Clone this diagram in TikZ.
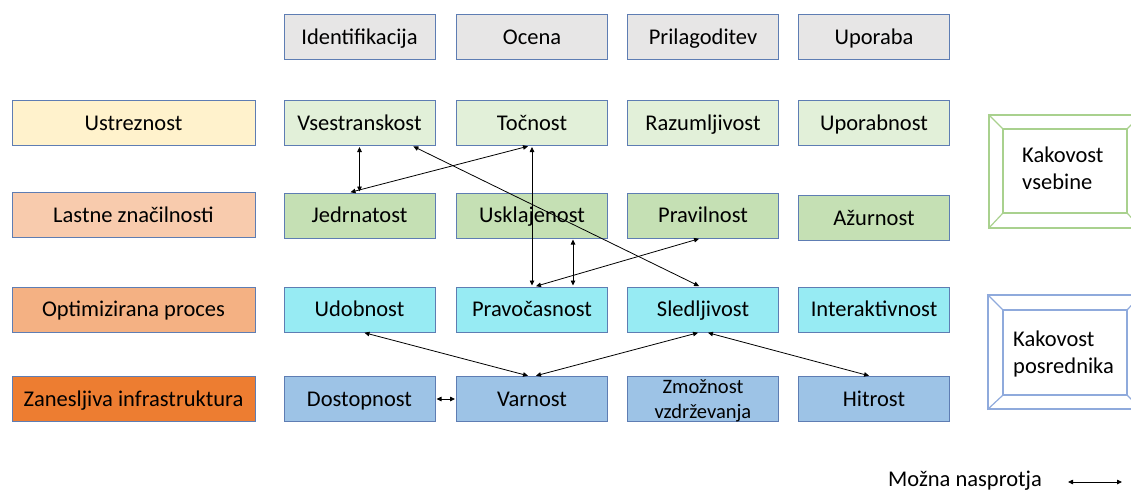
\documentclass[tikz,border=0pt]{standalone}
\usepackage{fontspec}
\setmainfont{Carlito}
\usetikzlibrary{arrows.meta}
\definecolor{bordc}{HTML}{5E7DB3}
\definecolor{hdr}{HTML}{E7E6E6}
\definecolor{lyel}{HTML}{FFF2CC}
\definecolor{lpea}{HTML}{F8CBAD}
\definecolor{lora}{HTML}{F4B183}
\definecolor{dora}{HTML}{ED7D31}
\definecolor{gA}{HTML}{E2F0D9}
\definecolor{gB}{HTML}{C5E0B4}
\definecolor{cyA}{HTML}{97EBF3}
\definecolor{blA}{HTML}{9DC3E6}
\definecolor{frG}{HTML}{A9D18E}
\definecolor{frB}{HTML}{8FAADC}
\tikzset{
  basebox/.style={draw=bordc, line width=1pt, minimum width=151pt, minimum height=45pt,
    inner sep=0pt, text=black},
  box/.style={basebox, font=\fontsize{22.5}{26}\selectfont, text height=16pt, text depth=2pt},
  lbox/.style={box, minimum width=243pt},
  opp/.style={{Triangle[length=5pt,width=4.5pt]}-{Triangle[length=5pt,width=4.5pt]}, line width=0.8pt, black, shorten <=1pt, shorten >=1pt},
  frameline/.style={line width=1.2pt},
  ftext/.style={font=\fontsize{22.5}{27}\selectfont, align=left, inner sep=0pt, anchor=west}
}
\begin{document}
\begin{tikzpicture}[x=1pt,y=-1pt]
\clip (0,0) rectangle (1131,492);
% header row
\node[box, fill=hdr] (h1) at (359.5,37.5) {Identifikacija};
\node[box, fill=hdr] (h2) at (532,37.5) {Ocena};
\node[box, fill=hdr] (h3) at (703,37.5) {Prilagoditev};
\node[box, fill=hdr] (h4) at (874,37.5) {Uporaba};
% left column
\node[lbox, fill=lyel] (l1) at (133.5,123) {Ustreznost};
\node[lbox, fill=lpea] (l2) at (133.5,215) {Lastne značilnosti};
\node[lbox, fill=lora] (l3) at (133.5,309.5) {Optimizirana proces};
\node[lbox, fill=dora] (l4) at (133.5,399) {Zanesljiva infrastruktura};
% row 1
\node[box, fill=gA] (vse) at (359.5,123) {Vsestranskost};
\node[box, fill=gA] (toc) at (532,123) {Točnost};
\node[box, fill=gA] (raz) at (703,123) {Razumljivost};
\node[box, fill=gA] (upb) at (874,123) {Uporabnost};
% row 2
\node[box, fill=gB] (jed) at (359.5,215.5) {Jedrnatost};
\node[box, fill=gB] (usk) at (532,215.5) {Usklajenost};
\node[box, fill=gB] (prv) at (703,215.5) {Pravilnost};
\node[box, fill=gB] (azu) at (874,218) {Ažurnost};
% row 3
\node[box, fill=cyA] (udo) at (359.5,309.5) {Udobnost};
\node[box, fill=cyA] (pra) at (532,309.5) {Pravočasnost};
\node[box, fill=cyA] (sle) at (703,309.5) {Sledljivost};
\node[box, fill=cyA] (int) at (874,309.5) {Interaktivnost};
% row 4
\node[box, fill=blA] (dos) at (359.5,399) {Dostopnost};
\node[box, fill=blA] (var) at (532,399) {Varnost};
\node[basebox, fill=blA] (zmo) at (703,399) {};
\node[inner sep=0pt, align=center, font=\fontsize{20.5}{25}\selectfont] (zmot) at (703,401) {Zmožnost\\vzdrževanja};
\node[box, fill=blA] (hit) at (874,399) {Hitrost};
% connectors
\draw[opp] (vse.south) -- (jed.north);
\draw[opp] ([xshift=-3pt]toc.south) -- ([xshift=-10pt]jed.north);
\draw[opp] ([xshift=53pt]vse.south) -- ([xshift=-3pt]sle.north);
\draw[opp] (toc.south) -- (pra.north);
\draw[opp] ([xshift=41pt]usk.south) -- ([xshift=41pt]pra.north);
\draw[opp] ([xshift=-3pt]prv.south) -- ([xshift=3pt]pra.north);
\draw[opp] ([xshift=4pt]udo.south) -- ([xshift=-3pt]var.north);
\draw[opp] ([xshift=3pt]var.north) -- ([xshift=-4pt]sle.south);
\draw[opp] ([xshift=4pt]sle.south) -- ([xshift=-4pt]hit.north);
\draw[opp] (dos.east) -- (var.west);
% frames
\node[draw=frG, frameline, minimum width=152pt, minimum height=113pt, inner sep=0pt] (fvo) at (1065,171.5) {};
\node[draw=frG, frameline, minimum width=124pt, minimum height=84pt, inner sep=0pt] (fvi) at (1065,171) {};
\foreach \a in {north west, north east, south west, south east}
  \draw[frG, frameline] (fvo.\a) -- (fvi.\a);
\node[ftext] (tv) at (1022,168.5) {Kakovost\\vsebine};
\node[draw=frB, frameline, minimum width=153pt, minimum height=114pt, inner sep=0pt] (fpo) at (1064.5,352) {};
\node[draw=frB, frameline, minimum width=124pt, minimum height=85pt, inner sep=0pt] (fpi) at (1065,352.5) {};
\foreach \a in {north west, north east, south west, south east}
  \draw[frB, frameline] (fpo.\a) -- (fpi.\a);
\node[ftext] (tp) at (1013,354) {Kakovost\\posrednika};
% legend
\node[font=\fontsize{22.5}{26}\selectfont, inner sep=0pt, anchor=west] (leg) at (888,481) {Možna nasprotja};
\coordinate (la) at (1067,482);
\coordinate (lb) at (1123,482);
\draw[opp] (la) -- (lb);
\end{tikzpicture}
\end{document}
